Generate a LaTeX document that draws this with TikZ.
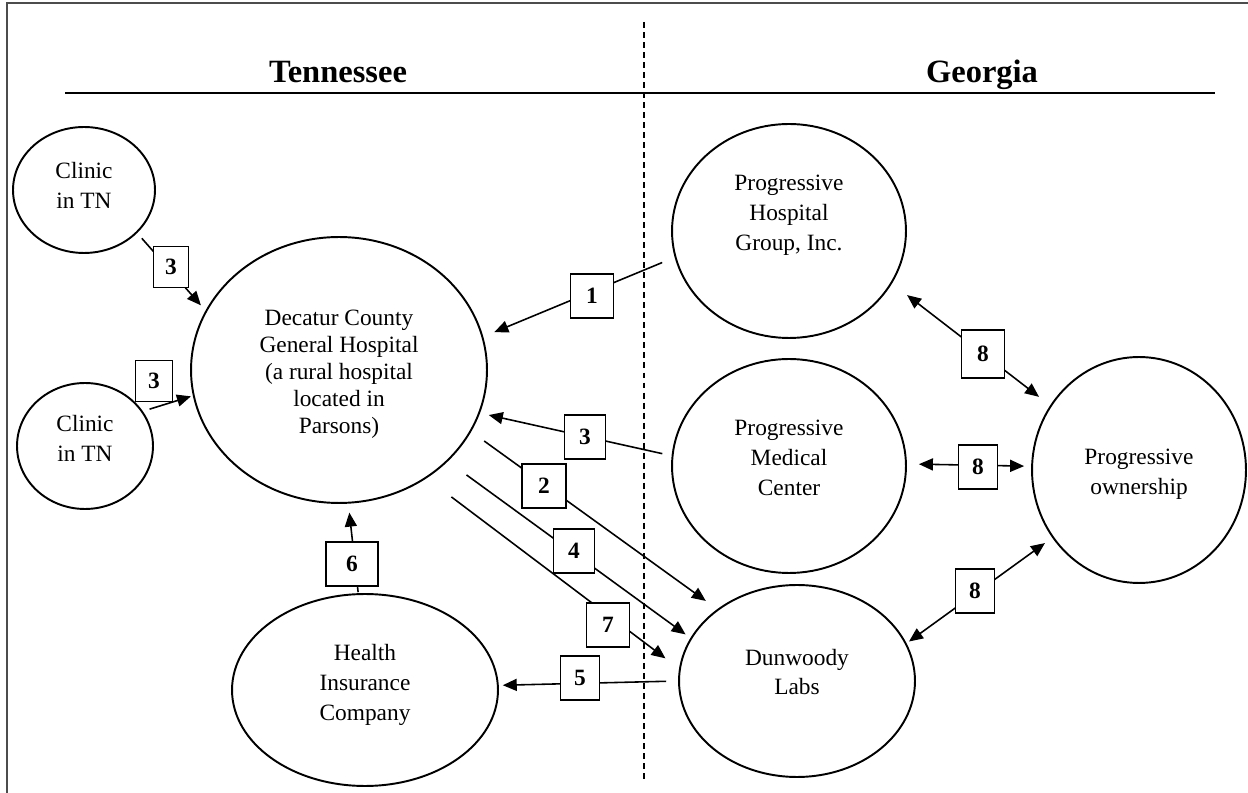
\documentclass[tikz,border=0pt]{standalone}
\usepackage{fontspec}
\setmainfont{Liberation Serif}
\usetikzlibrary{shapes.geometric,arrows.meta}

\begin{document}
\begin{tikzpicture}[x=0.02cm,y=-0.02cm,
    place/.style={ellipse,draw,line width=1.1pt,inner sep=0pt},
    txt/.style={align=center,inner sep=0pt,font=\fontsize{13.3}{17}\selectfont},
    numbox/.style={rectangle,draw,line width=0.6pt,fill=white,inner sep=0pt,minimum width=0.82cm,minimum height=0.88cm,font=\fontsize{13.3}{16}\selectfont\bfseries},
    flow/.style={-{Triangle[length=0.28cm,width=0.24cm]},line width=0.9pt},
    twoway/.style={{Triangle[length=0.28cm,width=0.24cm]}-{Triangle[length=0.28cm,width=0.24cm]},line width=0.9pt},
    region/.style={font=\fontsize{18.5}{22}\selectfont\bfseries,anchor=base},
    border/.style={dashed,dash pattern=on 3.4pt off 2.3pt,line width=0.6pt}
]
\useasboundingbox (0,0) rectangle (1248,793);

% Frame
\draw[black!70,line width=0.8pt] (7,793) -- (7,3) -- (1248,3);

% States and state line
\node[region] (tn) at (338,83) {Tennessee};
\node[region] (ga) at (982,83) {Georgia};
\draw[line width=1.3pt] (65,93) -- (1215,93);
\draw[border] (644,22) -- (644,780);

% Tennessee side
\node[place,minimum width=2.84cm,minimum height=2.52cm] (clinicA) at (84,190) {};
\node[txt,yshift=0.1cm] (clinicAtxt) at (clinicA) {Clinic\\in TN};
\node[place,minimum width=2.72cm,minimum height=2.52cm] (clinicB) at (85,446) {};
\node[txt,yshift=0.16cm] (clinicBtxt) at (clinicB) {Clinic\\in TN};
\node[place,minimum width=5.92cm,minimum height=5.32cm] (decatur) at (339,370) {};
\node[txt,yshift=-0.08cm,font=\fontsize{13.3}{15.4}\selectfont] (decaturtxt) at (decatur) {Decatur County\\General Hospital\\(a rural hospital\\located in\\Parsons)};
\node[place,minimum width=5.32cm,minimum height=3.84cm] (health) at (365,690) {};
\node[txt,yshift=0.1cm] (healthtxt) at (health) {Health\\Insurance\\Company};

% Georgia side
\node[place,minimum width=4.68cm,minimum height=4.28cm] (pgroup) at (789,231) {};
\node[txt,yshift=0.32cm] (pgrouptxt) at (pgroup) {Progressive\\Hospital\\Group, Inc.};
\node[place,minimum width=4.68cm,minimum height=4.28cm] (pmedical) at (789,466) {};
\node[txt,yshift=0.16cm] (pmedicaltxt) at (pmedical) {Progressive\\Medical\\Center};
\node[place,minimum width=4.72cm,minimum height=3.84cm] (dunwoody) at (797,681) {};
\node[txt,yshift=0.18cm] (dunwoodytxt) at (dunwoody) {Dunwoody\\Labs};
\node[place,minimum width=4.28cm,minimum height=4.52cm] (owner) at (1139,470) {};
\node[txt,yshift=-0.08cm] (ownertxt) at (owner) {Progressive\\ownership};

% Flows
\draw[flow,shorten <=0.14cm,shorten >=0.14cm] (clinicA.-39) -- (decatur.156);
\draw[flow,shorten <=0.14cm,shorten >=0.04cm] (clinicB.31) -- (decatur.190.4);
\draw[flow,shorten <=0.27cm,shorten >=0.24cm] (pgroup.193.8) -- (decatur.13.1);
\draw[flow,shorten <=0.19cm,shorten >=0.18cm] (pmedical.175.9) -- (decatur.-17.6);
\draw[flow,shorten <=0.32cm,shorten >=0.28cm] (decatur.-25.8) -- (dunwoody.138.4);
\draw[flow,shorten <=0.46cm,shorten >=0.12cm] (decatur.-40.8) -- (dunwoody.158.1);
\draw[flow,shorten <=0.62cm,shorten >=0.34cm] (decatur.-51.2) -- (dunwoody.174);
\draw[flow,shorten <=0.24cm,shorten >=0.08cm] (dunwoody.180.9) -- (health.2.9);
\draw[flow,shorten <=0.02cm,shorten >=0.18cm] (health.94.7) -- (decatur.-86.8);

% Ownership links
\draw[twoway,shorten <=0.38cm,shorten >=0.28cm] (pgroup.-27.1) -- (owner.144.6);
\draw[twoway,shorten <=0.24cm,shorten >=0.14cm] (pmedical.1.3) -- (owner.178.5);
\draw[twoway,shorten <=0.06cm,shorten >=0.18cm] (dunwoody.19.4) -- (owner.218.1);

% Step numbers
\node[numbox,minimum width=0.7cm,minimum height=0.82cm] (n3a) at (171,267) {3};
\node[numbox,minimum width=0.74cm,minimum height=0.82cm] (n3b) at (154,381) {3};
\node[numbox,minimum width=0.86cm] (n1) at (592,296) {1};
\node[numbox] (n3c) at (585,437) {3};
\node[numbox,minimum width=0.88cm] (n2) at (544,486) {2};
\node[numbox] (n4) at (574,551) {4};
\node[numbox,minimum width=0.86cm] (n7) at (608,625) {7};
\node[numbox,minimum width=0.78cm] (n5) at (580,678) {5};
\node[numbox,minimum width=1.04cm] (n6) at (352,564) {6};
\node[numbox,minimum width=0.86cm,minimum height=0.96cm] (n8a) at (983,354) {8};
\node[numbox,minimum width=0.78cm] (n8b) at (978,467) {8};
\node[numbox,minimum width=0.78cm] (n8c) at (975,591) {8};

\end{tikzpicture}
\end{document}
